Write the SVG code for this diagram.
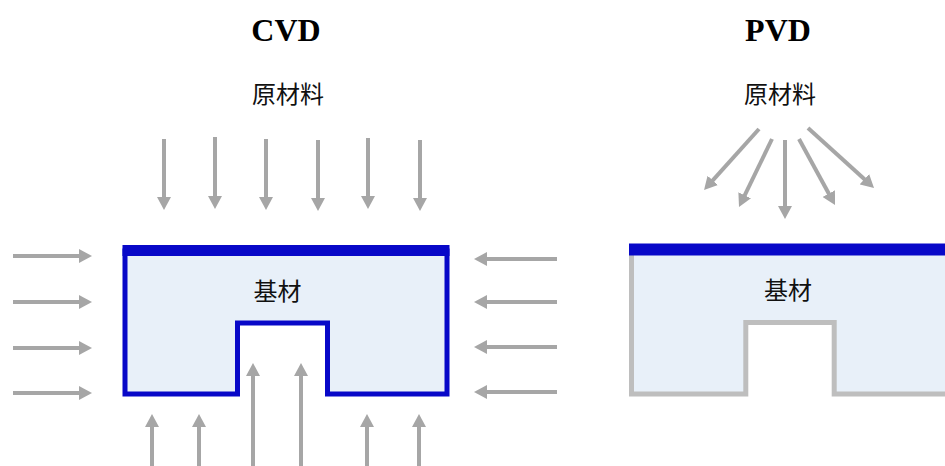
<svg xmlns="http://www.w3.org/2000/svg" width="945" height="466" viewBox="0 0 945 466">
<defs>
<marker id="ah" markerUnits="userSpaceOnUse" markerWidth="14" markerHeight="14" refX="5" refY="7" orient="auto">
<path d="M0,0 L13,7 L0,14 z" fill="#A6A6A6"/>
</marker>
<style>
.t{font-family:"Liberation Serif","Times New Roman",serif;font-weight:bold;font-size:32px;fill:#000;text-anchor:middle}
.c{font-family:"Noto Sans CJK SC","Noto Sans",sans-serif;font-size:24px;fill:#111;text-anchor:middle}
.a{stroke:#A6A6A6;stroke-width:4;fill:none;marker-end:url(#ah)}
.sub{fill:#E8F0F9;stroke-width:5}
</style>
</defs>
<rect width="945" height="466" fill="#fff"/>
<text class="t" x="286" y="41">CVD</text>
<text class="t" x="778" y="41">PVD</text>
<text class="c" x="288" y="103">原材料</text>
<text class="c" x="780" y="103">原材料</text>
<g id="cvd-substrate">
<path class="sub" stroke="#0808C8" d="M125,251 L125,394 L237.5,394 L237.5,323 L327.5,323 L327.5,394 L447,394 L447,251 Z"/>
<rect x="122.5" y="245" width="327" height="11" fill="#0808C8"/>
<text class="c" x="277.5" y="300">基材</text>
</g>
<g id="pvd-substrate">
<path class="sub" stroke="#BEBEBE" d="M950,250 L631.5,250 L631.5,394 L745.8,394 L745.8,322.5 L834.2,322.5 L834.2,394 L950,394"/>
<rect x="629" y="243.5" width="320" height="12" fill="#0808C8"/>
<text class="c" x="788" y="299">基材</text>
</g>
<g id="connectors">
<line class="a" x1="164" y1="139" x2="164" y2="202"/>
<line class="a" x1="215" y1="137" x2="215" y2="201"/>
<line class="a" x1="266" y1="139" x2="266" y2="202"/>
<line class="a" x1="318" y1="140" x2="318" y2="203"/>
<line class="a" x1="368" y1="138" x2="368" y2="201"/>
<line class="a" x1="420" y1="140" x2="420" y2="203"/>
<line class="a" x1="13" y1="256" x2="84" y2="256"/>
<line class="a" x1="13" y1="302" x2="84" y2="302"/>
<line class="a" x1="13" y1="348" x2="84" y2="348"/>
<line class="a" x1="13" y1="393" x2="84" y2="393"/>
<line class="a" x1="557" y1="259" x2="482" y2="259"/>
<line class="a" x1="557" y1="302" x2="482" y2="302"/>
<line class="a" x1="557" y1="347" x2="482" y2="347"/>
<line class="a" x1="557" y1="392" x2="482" y2="392"/>
<line class="a" x1="152" y1="470" x2="152" y2="422"/>
<line class="a" x1="199" y1="470" x2="199" y2="422"/>
<line class="a" x1="253" y1="470" x2="253" y2="371"/>
<line class="a" x1="301" y1="470" x2="301" y2="371"/>
<line class="a" x1="367" y1="470" x2="367" y2="422"/>
<line class="a" x1="419" y1="470" x2="419" y2="422"/>
<line class="a" x1="759" y1="129" x2="709.4" y2="184.1"/>
<line class="a" x1="772" y1="139" x2="742.5" y2="199.8"/>
<line class="a" x1="785" y1="140" x2="785" y2="211"/>
<line class="a" x1="799" y1="139" x2="831.2" y2="198"/>
<line class="a" x1="808" y1="128" x2="868.1" y2="182.6"/>
</g>
</svg>
